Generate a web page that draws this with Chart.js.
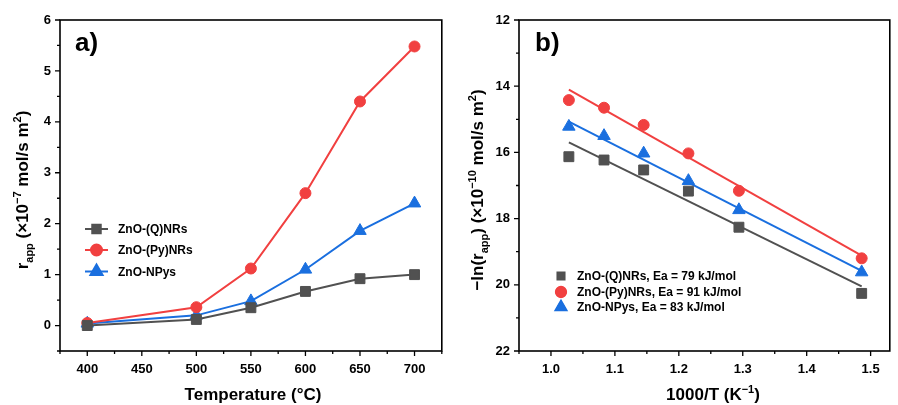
<!DOCTYPE html>
<html>
<head>
<meta charset="utf-8">
<script src="https://cdn.jsdelivr.net/npm/chart.js@4/dist/chart.umd.min.js"></script>
<style>
html,body{margin:0;padding:0;background:#fff;}
#wrap{position:relative;width:898px;height:405px;overflow:hidden;}
#ca{position:absolute;left:0;top:0;}
#cb{position:absolute;left:450px;top:0;}
</style>
</head>
<body>
<div id="wrap">
<canvas id="ca" width="450" height="405"></canvas>
<canvas id="cb" width="448" height="405"></canvas>
</div>
<script>
// ---------- DATA ----------
const seriesNames = ['ZnO-(Q)NRs', 'ZnO-(Py)NRs', 'ZnO-NPys'];
const activationEnergy = [79, 91, 83]; // kJ/mol

// Panel a: apparent rate vs temperature
const tempC = [400, 500, 550, 600, 650, 700];
const rateQ  = [0.00, 0.12, 0.35, 0.67, 0.92, 1.00];
const ratePy = [0.05, 0.36, 1.12, 2.60, 4.40, 5.48];
const rateNP = [0.04, 0.20, 0.48, 1.10, 1.86, 2.40];
const tickXa = [400, 450, 500, 550, 600, 650, 700];
const tickYa = [0, 1, 2, 3, 4, 5, 6];

// Panel b: Arrhenius plot
const invT  = [1.028, 1.083, 1.145, 1.215, 1.294, 1.486];
const lnQ   = [16.13, 16.23, 16.53, 17.17, 18.26, 20.26];
const lnPy  = [14.42, 14.65, 15.17, 16.03, 17.16, 19.20];
const lnNP  = [15.22, 15.50, 16.03, 16.86, 17.74, 19.62];
const fitX  = [1.028, 1.486];
const fitQ  = [15.70, 20.05];
const fitPy = [14.10, 19.12];
const fitNP = [15.07, 19.58];
const tickXb = [1.0, 1.1, 1.2, 1.3, 1.4, 1.5];
const tickYb = [12, 14, 16, 18, 20, 22];

// ---------- STYLE ----------
const FONT = '"Liberation Sans", Arial, Helvetica, sans-serif';
const GREY = '#515151', RED = '#F14040', BLUE = '#1A6FDF';
const colors = [GREY, RED, BLUE];
const styles = ['rect', 'circle', 'triangle'];
const radii = [7, 5.5, 7.2];

function pts(xs, ys){ return xs.map((x,i)=>({x:x, y:ys[i]})); }

function richDraw(ctx, segs, size, cx, cy, rot){
  const small = Math.round(size*0.65);
  const fontOf = k => 'bold ' + (k ? small : size) + 'px ' + FONT;
  let w = 0;
  segs.forEach(s=>{ ctx.font = fontOf(s.k); w += ctx.measureText(s.t).width; });
  ctx.save();
  ctx.translate(cx, cy);
  if (rot) ctx.rotate(rot);
  ctx.fillStyle = '#000';
  ctx.textBaseline = 'alphabetic';
  ctx.textAlign = 'left';
  let x = -w/2;
  const base = size*0.36;
  segs.forEach(s=>{
    ctx.font = fontOf(s.k);
    let dy = 0;
    if (s.k === 'sub') dy = size*0.28;
    if (s.k === 'sup') dy = -size*0.42;
    ctx.fillText(s.t, x, base + dy);
    x += ctx.measureText(s.t).width;
  });
  ctx.restore();
}

const decor = {
  id: 'decor',
  afterDraw(chart, args, o){
    const ctx = chart.ctx, a = chart.chartArea;
    const xs = chart.scales.x, ys = chart.scales.y;
    ctx.save();
    ctx.strokeStyle = '#000';
    ctx.lineWidth = 1.6;
    ctx.strokeRect(a.left, a.top, a.right - a.left, a.bottom - a.top);
    ctx.lineWidth = 1.3;
    ctx.beginPath();
    o.xMajor.forEach(v=>{ const p = xs.getPixelForValue(v); ctx.moveTo(p, a.bottom); ctx.lineTo(p, a.bottom + 5); });
    o.xMinor.forEach(v=>{ const p = xs.getPixelForValue(v); ctx.moveTo(p, a.bottom); ctx.lineTo(p, a.bottom + 3); });
    o.yMajor.forEach(v=>{ const p = ys.getPixelForValue(v); ctx.moveTo(a.left, p); ctx.lineTo(a.left - 5, p); });
    o.yMinor.forEach(v=>{ const p = ys.getPixelForValue(v); ctx.moveTo(a.left, p); ctx.lineTo(a.left - 3, p); });
    ctx.stroke();
    // panel label
    ctx.fillStyle = '#000';
    ctx.font = 'bold 26px ' + FONT;
    ctx.textAlign = 'left';
    ctx.textBaseline = 'middle';
    ctx.fillText(o.panel, o.panelX, 44);
    // axis titles
    richDraw(ctx, o.xTitle, 17, o.xTitleX, 394, 0);
    richDraw(ctx, o.yTitle, 17, o.yTitleX, o.yTitleY, -Math.PI/2);
    // legend
    o.legend.rows.forEach((r, i)=>{
      const y = o.legend.y[i];
      if (o.legend.line){
        ctx.strokeStyle = colors[i];
        ctx.lineWidth = 2;
        ctx.beginPath();
        ctx.moveTo(o.legend.lx0, y); ctx.lineTo(o.legend.lx1, y);
        ctx.stroke();
      }
      ctx.fillStyle = colors[i];
      ctx.strokeStyle = colors[i];
      Chart.helpers.drawPoint(ctx, {pointStyle: styles[i], radius: o.legend.r[i], borderWidth: 1, rotation: 0}, o.legend.mx, y);
      ctx.fill();
      ctx.fillStyle = '#000';
      ctx.font = 'bold 12px ' + FONT;
      ctx.textAlign = 'left';
      ctx.textBaseline = 'middle';
      ctx.fillText(r, o.legend.tx, y + 1);
    });
    ctx.restore();
  }
};

function tickOpts(fmt, pad){
  return {
    color: '#000',
    font: {family: FONT, size: 13, weight: 'bold'},
    padding: pad,
    autoSkip: false,
    maxRotation: 0,
    callback: fmt
  };
}

// ---------- PANEL A ----------
const dsA = [rateQ, ratePy, rateNP].map((arr, i)=>({
  label: seriesNames[i],
  data: pts(tempC, arr),
  showLine: true,
  borderColor: colors[i],
  backgroundColor: colors[i],
  borderWidth: 2,
  pointStyle: styles[i],
  pointRadius: radii[i],
  pointBorderWidth: 1,
  tension: 0
}));

new Chart(document.getElementById('ca'), {
  type: 'scatter',
  data: {datasets: dsA},
  options: {
    responsive: false, animation: false, devicePixelRatio: 1,
    layout: {padding: {top: 20, right: 3, left: 0, bottom: 0}},
    plugins: {
      legend: {display: false}, tooltip: {enabled: false},
      decor: {
        panel: 'a)', panelX: 75,
        xMajor: tickXa, xMinor: [375, 425, 475, 525, 575, 625, 675, 725],
        yMajor: tickYa, yMinor: [-0.5, 0.5, 1.5, 2.5, 3.5, 4.5, 5.5],
        xTitle: [{t: 'Temperature (°C)'}], xTitleX: 253,
        yTitle: [{t:'r'},{t:'app',k:'sub'},{t:' (×10'},{t:'−7',k:'sup'},{t:' mol/s m'},{t:'2',k:'sup'},{t:')'}],
        yTitleX: 22, yTitleY: 190,
        legend: {rows: seriesNames, y: [229, 250, 271.5], line: true, lx0: 85, lx1: 108, mx: 96.5, tx: 118, r: [6, 5.5, 7]}
      }
    },
    scales: {
      x: {
        type: 'linear', min: 375, max: 725,
        grid: {display: false}, border: {display: false},
        ticks: tickOpts(v => String(v), 3),
        afterBuildTicks: s => { s.ticks = tickXa.map(v=>({value: v})); },
        afterFit: s => { s.height = 54; }
      },
      y: {
        type: 'linear', min: -0.5, max: 6,
        grid: {display: false}, border: {display: false},
        ticks: tickOpts(v => String(v), 1),
        afterBuildTicks: s => { s.ticks = tickYa.map(v=>({value: v})); },
        afterFit: s => { s.width = 60; }
      }
    }
  },
  plugins: [decor]
});

// ---------- PANEL B ----------
const ptsB = [lnQ, lnPy, lnNP].map((arr, i)=>({
  label: seriesNames[i],
  data: pts(invT, arr),
  showLine: false,
  backgroundColor: colors[i],
  borderColor: colors[i],
  pointStyle: styles[i],
  pointRadius: radii[i],
  pointBorderWidth: 1,
  order: 1
}));
const fitsB = [fitQ, fitPy, fitNP].map((arr, i)=>({
  label: seriesNames[i] + ' fit',
  data: pts(fitX, arr),
  showLine: true,
  borderColor: colors[i],
  borderWidth: 2,
  pointRadius: 0,
  order: 2
}));

new Chart(document.getElementById('cb'), {
  type: 'scatter',
  data: {datasets: fitsB.concat(ptsB)},
  options: {
    responsive: false, animation: false, devicePixelRatio: 1,
    layout: {padding: {top: 20, right: 1, left: 0, bottom: 0}},
    plugins: {
      legend: {display: false}, tooltip: {enabled: false},
      decor: {
        panel: 'b)', panelX: 85,
        xMajor: tickXb, xMinor: [0.95, 1.05, 1.15, 1.25, 1.35, 1.45],
        yMajor: tickYb, yMinor: [13, 15, 17, 19, 21],
        xTitle: [{t:'1000/T (K'},{t:'−1',k:'sup'},{t:')'}], xTitleX: 263,
        yTitle: [{t:'−ln(r'},{t:'app',k:'sub'},{t:') (×10'},{t:'−10',k:'sup'},{t:' mol/s m'},{t:'2',k:'sup'},{t:')'}],
        yTitleX: 27, yTitleY: 190,
        legend: {rows: seriesNames.map((n,i)=> n + ', Ea = ' + activationEnergy[i] + ' kJ/mol'), y: [276, 292, 307], line: false, mx: 111, tx: 127, r: [5.5, 5.5, 7]}
      }
    },
    scales: {
      x: {
        type: 'linear', min: 0.95, max: 1.53,
        grid: {display: false}, border: {display: false},
        ticks: tickOpts(v => v.toFixed(1), 3),
        afterBuildTicks: s => { s.ticks = tickXb.map(v=>({value: v})); },
        afterFit: s => { s.height = 54; }
      },
      y: {
        type: 'linear', min: 12, max: 22, reverse: true,
        grid: {display: false}, border: {display: false},
        ticks: tickOpts(v => String(v), 1),
        afterBuildTicks: s => { s.ticks = tickYb.map(v=>({value: v})); },
        afterFit: s => { s.width = 69; }
      }
    }
  },
  plugins: [decor]
});
</script>
</body>
</html>
